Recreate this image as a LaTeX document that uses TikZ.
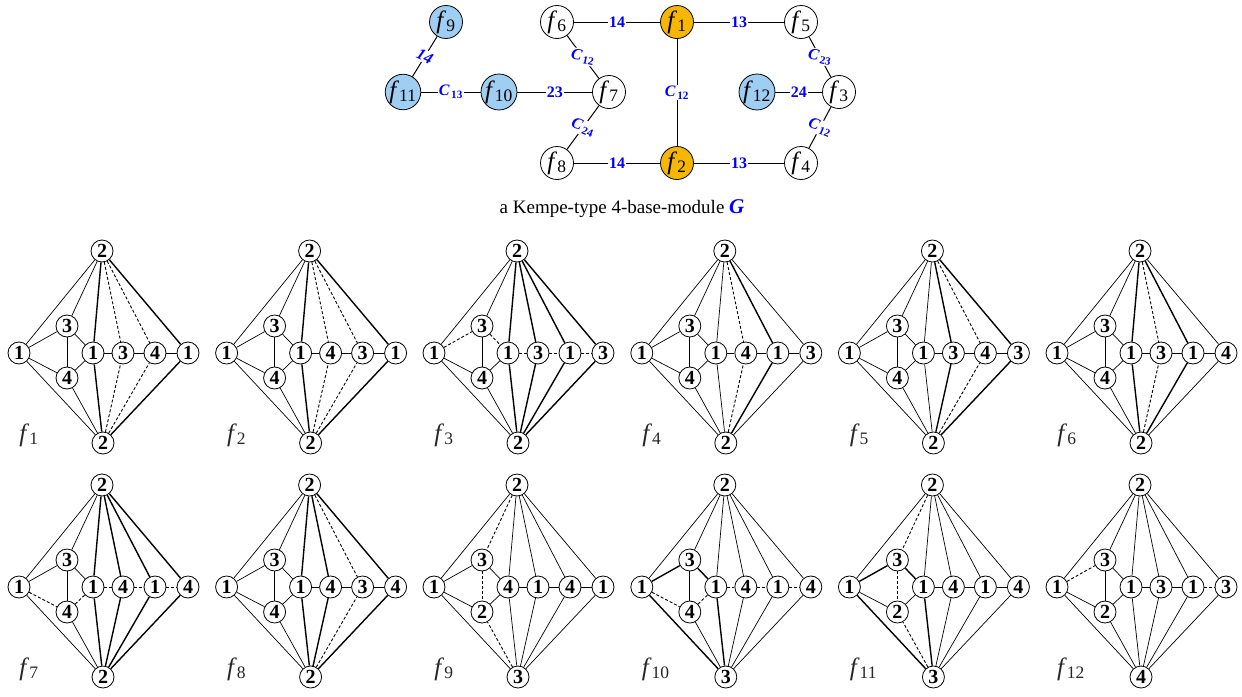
\documentclass[tikz,border=0pt]{standalone}
\usepackage{fontspec}
\setmainfont{Liberation Serif}

\definecolor{kgold}{RGB}{247,182,0}
\definecolor{kblue}{RGB}{160,205,242}
\definecolor{klabel}{RGB}{0,0,255}

\tikzset{
  vtx/.style={circle, draw, fill=white, line width=0.8pt, inner sep=0pt,
    minimum size=22pt, font=\fontsize{20}{20}\selectfont\bfseries},
  fnode/.style={circle, draw, fill=white, line width=0.8pt, inner sep=0pt,
    minimum size=33pt, font=\fontsize{25}{25}\selectfont},
  elab/.style={fill=white, inner sep=1pt, text=klabel,
    font=\fontsize{16}{16}\selectfont\bfseries},
  flabel/.style={font=\fontsize{25}{25}\selectfont, text=black!85},
  thin edge/.style={line width=0.7pt},
  thick edge/.style={line width=1.4pt},
  dash edge/.style={line width=0.9pt, dash pattern=on 3pt off 2pt},
  % every edge of a small graph is thin unless a panel says otherwise
  setthin/.style={e-#1/.style={thin edge}},
  setthin/.list={t-l,t-u,t-c1,t-c2,t-c3,t-c4,b-l,b-d,b-c1,b-c2,b-c3,b-c4,
    l-u,l-d,u-d,u-c1,d-c1,c1-c2,c2-c3,c3-c4},
  dsh/.style={e-#1/.style={dash edge}},
  thk/.style={e-#1/.style={thick edge}},
}

% vertices: top, bottom, left, upper, lower, then the row c1..c4
\newcommand{\kempenodes}[9]{%
  \node[vtx] (l) at (0,0) {#3};
  \node[vtx] (u) at (48,-27) {#4};
  \node[vtx] (d) at (48,25) {#5};
  \node[vtx] (c1) at (74,0) {#6};
  \node[vtx] (c2) at (104,0) {#7};
  \node[vtx] (c3) at (136,0) {#8};
  \node[vtx] (c4) at (169,0) {#9};
  \node[vtx] (t) at (83,-102) {#1};
  \node[vtx] (b) at (84,90) {#2};
}

\newcommand{\kempeedges}[1]{%
  \tikzset{#1}%
  \draw[e-t-l] (t) -- (l);
  \draw[e-t-u] (t) -- (u);
  \draw[e-t-c1] (t) -- (c1);
  \draw[e-t-c2] (t) -- (c2);
  \draw[e-t-c3] (t) -- (c3);
  \draw[e-t-c4] (t) -- (c4);
  \draw[e-b-l] (b) -- (l);
  \draw[e-b-d] (b) -- (d);
  \draw[e-b-c1] (b) -- (c1);
  \draw[e-b-c2] (b) -- (c2);
  \draw[e-b-c3] (b) -- (c3);
  \draw[e-b-c4] (b) -- (c4);
  \draw[e-l-u] (l) -- (u);
  \draw[e-l-d] (l) -- (d);
  \draw[e-u-d] (u) -- (d);
  \draw[e-u-c1] (u) -- (c1);
  \draw[e-d-c1] (d) -- (c1);
  \draw[e-c1-c2] (c1) -- (c2);
  \draw[e-c2-c3] (c2) -- (c3);
  \draw[e-c3-c4] (c3) -- (c4);
}

\newcommand{\fname}[1]{\textit{f}\textsubscript{#1}}
\newcommand{\cname}[1]{\textit{C}\kern0.1em\textsubscript{#1}}

\begin{document}
\begin{tikzpicture}[x=1pt, y=-1pt]
    \useasboundingbox (0,0) rectangle (1242,696);

    % ==========================================
    % Top: the module G
    % ==========================================
    \node[fnode, fill=kblue] (f9) at (446,22) {\fname{9}};
    \node[fnode, fill=kblue] (f11) at (403,92) {\fname{11}};
    \node[fnode, fill=kblue] (f10) at (499,92) {\fname{10}};
    \node[fnode] (f7) at (609,92) {\fname{7}};
    \node[fnode] (f6) at (557,22) {\fname{6}};
    \node[fnode] (f8) at (557,163) {\fname{8}};
    \node[fnode, fill=kgold] (f1) at (677,22) {\fname{1}};
    \node[fnode, fill=kgold] (f2) at (677,163) {\fname{2}};
    \node[fnode] (f5) at (801,22) {\fname{5}};
    \node[fnode, fill=kblue] (f12) at (757,92) {\fname{12}};
    \node[fnode] (f3) at (839,92) {\fname{3}};
    \node[fnode] (f4) at (801,163) {\fname{4}};

    % Edges with their labels
    \draw[line width=1pt] (f9) -- node[elab, rotate=-25] {\textit{14}} (f11);
    \draw[line width=1pt] (f11) -- node[elab] {\cname{13}} (f10);
    \draw[line width=1pt] (f10) -- node[elab] {23} (f7);
    \draw[line width=1pt] (f6) -- node[elab, rotate=-12] {\cname{12}} (f7);
    \draw[line width=1pt] (f7) -- node[elab, rotate=-22] {\cname{24}} (f8);
    \draw[line width=1pt] (f6) -- node[elab] {14} (f1);
    \draw[line width=1pt] (f8) -- node[elab] {14} (f2);
    \draw[line width=1pt] (f1) -- node[elab] {\cname{12}} (f2);
    \draw[line width=1pt] (f1) -- node[elab] {13} (f5);
    \draw[line width=1pt] (f2) -- node[elab] {13} (f4);
    \draw[line width=1pt] (f5) -- node[elab, rotate=-12] {\cname{23}} (f3);
    \draw[line width=1pt] (f3) -- node[elab, rotate=-22] {\cname{12}} (f4);
    \draw[line width=1pt] (f12) -- node[elab] {24} (f3);

    % Caption
    \node[font=\fontsize{19}{19}\selectfont] (cap) at (622,209)
        {a Kempe-type 4-base-module {\color{klabel}\fontsize{21}{21}\selectfont\bfseries\itshape G}};

    % ==========================================
    % Row 1: f1 .. f6
    % ==========================================
    \begin{scope}[shift={(19,353)}, name prefix=p1-]
        \kempenodes{2}{2}{1}{3}{4}{1}{3}{4}{1}
        \kempeedges{dsh/.list={t-c2,t-c3,b-c2,b-c3}, thk/.list={t-c1,b-c1,t-c4,b-c4}}
        \node[flabel] (name) at (10,82) {\fname{1}};
    \end{scope}

    \begin{scope}[shift={(226.6,353)}, name prefix=p2-]
        \kempenodes{2}{2}{1}{3}{4}{1}{4}{3}{1}
        \kempeedges{dsh/.list={t-c2,t-c3,b-c2,b-c3}, thk/.list={t-c1,b-c1,t-c4,b-c4}}
        \node[flabel] (name) at (10,82) {\fname{2}};
    \end{scope}

    \begin{scope}[shift={(434,353)}, name prefix=p3-]
        \kempenodes{2}{2}{1}{3}{4}{1}{3}{1}{3}
        \kempeedges{dsh/.list={l-u,u-c1,c1-c2,c2-c3,c3-c4},
            thk/.list={t-c1,t-c2,t-c3,t-c4,b-c1,b-c2,b-c3,b-c4}}
        \node[flabel] (name) at (10,82) {\fname{3}};
    \end{scope}

    \begin{scope}[shift={(641.8,353)}, name prefix=p4-]
        \kempenodes{2}{2}{1}{3}{4}{1}{4}{1}{3}
        \kempeedges{dsh/.list={t-c2,b-c2}, thk/.list={t-c3,b-c3}}
        \node[flabel] (name) at (10,82) {\fname{4}};
    \end{scope}

    \begin{scope}[shift={(849.4,353)}, name prefix=p5-]
        \kempenodes{2}{2}{1}{3}{4}{1}{3}{4}{3}
        \kempeedges{dsh/.list={t-c3,b-c3}, thk/.list={t-c2,b-c2,t-c4,b-c4}}
        \node[flabel] (name) at (10,82) {\fname{5}};
    \end{scope}

    \begin{scope}[shift={(1057,353)}, name prefix=p6-]
        \kempenodes{2}{2}{1}{3}{4}{1}{3}{1}{4}
        \kempeedges{dsh/.list={t-c2,b-c2}, thk/.list={t-c1,b-c1,t-c3,b-c3}}
        \node[flabel] (name) at (10,82) {\fname{6}};
    \end{scope}

    % ==========================================
    % Row 2: f7 .. f12
    % ==========================================
    \begin{scope}[shift={(19,587)}, name prefix=p7-]
        \kempenodes{2}{2}{1}{3}{4}{1}{4}{1}{4}
        \kempeedges{dsh/.list={l-d,d-c1,c1-c2,c2-c3,c3-c4},
            thk/.list={t-c1,t-c2,t-c3,t-c4,b-c1,b-c2,b-c3,b-c4}}
        \node[flabel] (name) at (10,82) {\fname{7}};
    \end{scope}

    \begin{scope}[shift={(226.6,587)}, name prefix=p8-]
        \kempenodes{2}{2}{1}{3}{4}{1}{4}{3}{4}
        \kempeedges{dsh/.list={t-c3,b-c3}, thk/.list={t-c1,b-c1,t-c2,b-c2,t-c4,b-c4}}
        \node[flabel] (name) at (10,82) {\fname{8}};
    \end{scope}

    \begin{scope}[shift={(434,587)}, name prefix=p9-]
        \kempenodes{2}{3}{1}{3}{2}{4}{1}{4}{1}
        \kempeedges{dsh/.list={t-u,u-d,b-d}}
        \node[flabel] (name) at (10,82) {\fname{9}};
    \end{scope}

    \begin{scope}[shift={(641.8,587)}, name prefix=p10-]
        \kempenodes{2}{3}{1}{3}{4}{1}{4}{1}{4}
        \kempeedges{dsh/.list={l-d,d-c1,c1-c2,c2-c3,c3-c4}, thk/.list={l-u,u-c1,b-l,b-c1}}
        \node[flabel] (name) at (14,82) {\fname{10}};
    \end{scope}

    \begin{scope}[shift={(849.4,587)}, name prefix=p11-]
        \kempenodes{2}{3}{1}{3}{2}{1}{4}{1}{4}
        \kempeedges{dsh/.list={t-u,u-d,b-d}, thk/.list={l-u,u-c1,b-l,b-c1}}
        \node[flabel] (name) at (14,82) {\fname{11}};
    \end{scope}

    \begin{scope}[shift={(1057,587)}, name prefix=p12-]
        \kempenodes{2}{4}{1}{3}{2}{1}{3}{1}{3}
        \kempeedges{dsh/.list={l-u,c3-c4}}
        \node[flabel] (name) at (14,82) {\fname{12}};
    \end{scope}
\end{tikzpicture}
\end{document}
